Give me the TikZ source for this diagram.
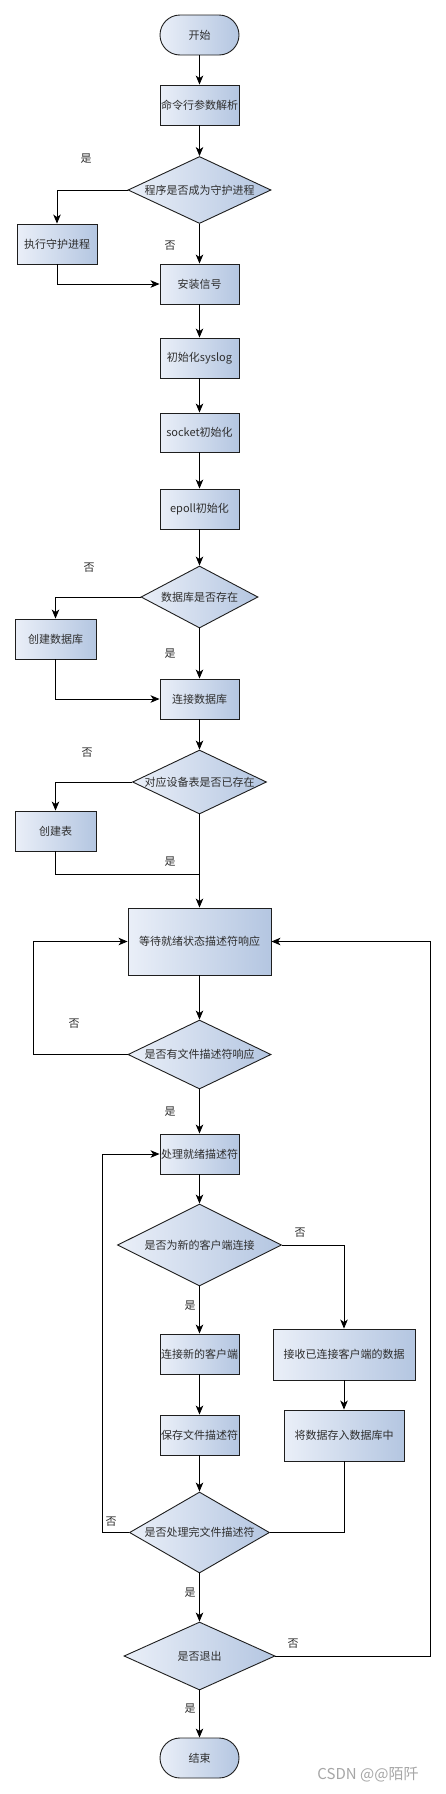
\documentclass[tikz,border=0pt]{standalone}
\usepackage{fontspec}
\newfontfamily\cjk{Noto Sans CJK SC}
\usetikzlibrary{arrows.meta,shapes.geometric}
\definecolor{boxL}{HTML}{EAEFF8}
\definecolor{boxR}{HTML}{B4C6E1}
\definecolor{txt}{HTML}{2E2E2E}
\definecolor{edge}{HTML}{1E1E1E}
\tikzset{
  base/.style={draw=edge, line width=0.9pt, left color=boxL, right color=boxR, text=txt, inner sep=0pt, align=center},
  proc/.style={base, rectangle, minimum width=#1, minimum height=40pt},
  proc/.default=79pt,
  term/.style={base, rectangle, rounded corners=20pt, minimum width=79pt, minimum height=40pt},
  dia/.style={base, diamond, text=txt},
  arr/.style={draw=black, line width=0.9pt, -{Stealth[length=9pt,width=7.5pt,inset=2.5pt]}},
  ln/.style={draw=black, line width=0.9pt},
  lab/.style={text=txt, inner sep=0pt}
}
\begin{document}
\begin{tikzpicture}[x=1pt,y=-1pt, font=\cjk\fontsize{11}{13}\selectfont]
\useasboundingbox[fill=white] (0,0) rectangle (446,1794);

% nodes
\node[term] (start) at (199.5,35) {开始};
\node[proc] (parse) at (199.5,105) {命令行参数解析};
\node[dia, minimum width=143pt, minimum height=67pt, label={[text=txt]center:程序是否成为守护进程}] (d1) at (199.5,190) {};
\node[proc=80pt] (daemon) at (57,244) {执行守护进程};
\node[proc] (signal) at (199.5,284) {安装信号};
\node[proc] (syslog) at (199.5,358) {初始化syslog};
\node[proc, minimum height=39pt] (socket) at (199.5,432.5) {socket初始化};
\node[proc] (epoll) at (199.5,509) {epoll初始化};
\node[dia, minimum width=117pt, minimum height=62pt, label={[text=txt]center:数据库是否存在}] (d2) at (199.5,597) {};
\node[proc=81pt] (createdb) at (55.5,639) {创建数据库};
\node[proc] (conndb) at (199.5,699) {连接数据库};
\node[dia, minimum width=134pt, minimum height=64pt, label={[text=txt]center:对应设备表是否已存在}] (d3) at (199.5,782) {};
\node[proc=81pt] (createtbl) at (55.5,831) {创建表};
\node[proc=143pt, minimum height=67pt] (wait) at (199.5,941.5) {等待就绪状态描述符响应};
\node[dia, minimum width=143pt, minimum height=69pt, label={[text=txt]center:是否有文件描述符响应}] (d4) at (199.5,1054.5) {};
\node[proc] (handle) at (199.5,1154) {处理就绪描述符};
\node[dia, minimum width=164pt, minimum height=82pt, label={[text=txt]center:是否为新的客户端连接}] (d5) at (199.5,1245) {};
\node[proc] (newcli) at (199.5,1354) {连接新的客户端};
\node[proc=142pt, minimum height=51pt] (recv) at (344,1354.5) {接收已连接客户端的数据};
\node[proc] (savefd) at (199.5,1435) {保存文件描述符};
\node[proc=120pt, minimum height=51pt] (store) at (344,1435.5) {将数据存入数据库中};
\node[dia, minimum width=140pt, minimum height=81pt, label={[text=txt]center:是否处理完文件描述符}] (d6) at (199.5,1532.5) {};
\node[dia, minimum width=151pt, minimum height=68pt, label={[text=txt]center:是否退出}] (d7) at (199.5,1656) {};
\node[term] (end) at (199.5,1758) {结束};

% helper coordinates
\coordinate (j1) at (199.5,874);
\coordinate (lp1) at (33,1054.5);
\coordinate (lp2) at (102,1532.5);
\coordinate (lp3) at (430,1656);

% connectors
\draw[arr] (start) -- (parse);
\draw[arr] (parse) -- (d1);
\draw[arr] (d1.west) -| (daemon.north);
\draw[arr] (d1) -- (signal);
\draw[arr] (daemon.south) |- (signal.west);
\draw[arr] (signal) -- (syslog);
\draw[arr] (syslog) -- (socket);
\draw[arr] (socket) -- (epoll);
\draw[arr] (epoll) -- (d2);
\draw[arr] (d2.west) -| (createdb.north);
\draw[arr] (d2) -- (conndb);
\draw[arr] (createdb.south) |- (conndb.west);
\draw[arr] (conndb) -- (d3);
\draw[arr] (d3.west) -| (createtbl.north);
\draw[arr] (d3) -- (wait);
\draw[ln] (createtbl.south) |- (j1);
\draw[arr] (wait) -- (d4);
\draw[arr] (d4.west) -- (lp1) |- (wait.west);
\draw[arr] (d4) -- (handle);
\draw[arr] (handle) -- (d5);
\draw[arr] (d5.east) -| (recv.north);
\draw[arr] (d5) -- (newcli);
\draw[arr] (newcli) -- (savefd);
\draw[arr] (recv) -- (store);
\draw[arr] (savefd) -- (d6);
\draw[ln] (store.south) |- (d6.east);
\draw[arr] (d6.west) -- (lp2) |- (handle.west);
\draw[arr] (d6) -- (d7);
\draw[arr] (d7.east) -- (lp3) |- (wait.east);
\draw[arr] (d7) -- (end);

% branch labels
\node[lab] (l1) at (86,159) {是};
\node[lab] (l2) at (170,246) {否};
\node[lab] (l3) at (89,568) {否};
\node[lab] (l4) at (170,654) {是};
\node[lab] (l5) at (87,753) {否};
\node[lab] (l6) at (170,862) {是};
\node[lab] (l7) at (74,1024) {否};
\node[lab] (l8) at (170,1112) {是};
\node[lab] (l9) at (300,1233) {否};
\node[lab] (l10) at (190,1306) {是};
\node[lab] (l11) at (111,1522) {否};
\node[lab] (l12) at (190,1593) {是};
\node[lab] (l13) at (293,1644) {否};
\node[lab] (l14) at (190,1709) {是};

% watermark
\node[text=black!35, inner sep=0pt, font=\cjk\fontsize{15}{17}\selectfont] (wm) at (368,1775) {CSDN @@陌阡};
\end{tikzpicture}
\end{document}
